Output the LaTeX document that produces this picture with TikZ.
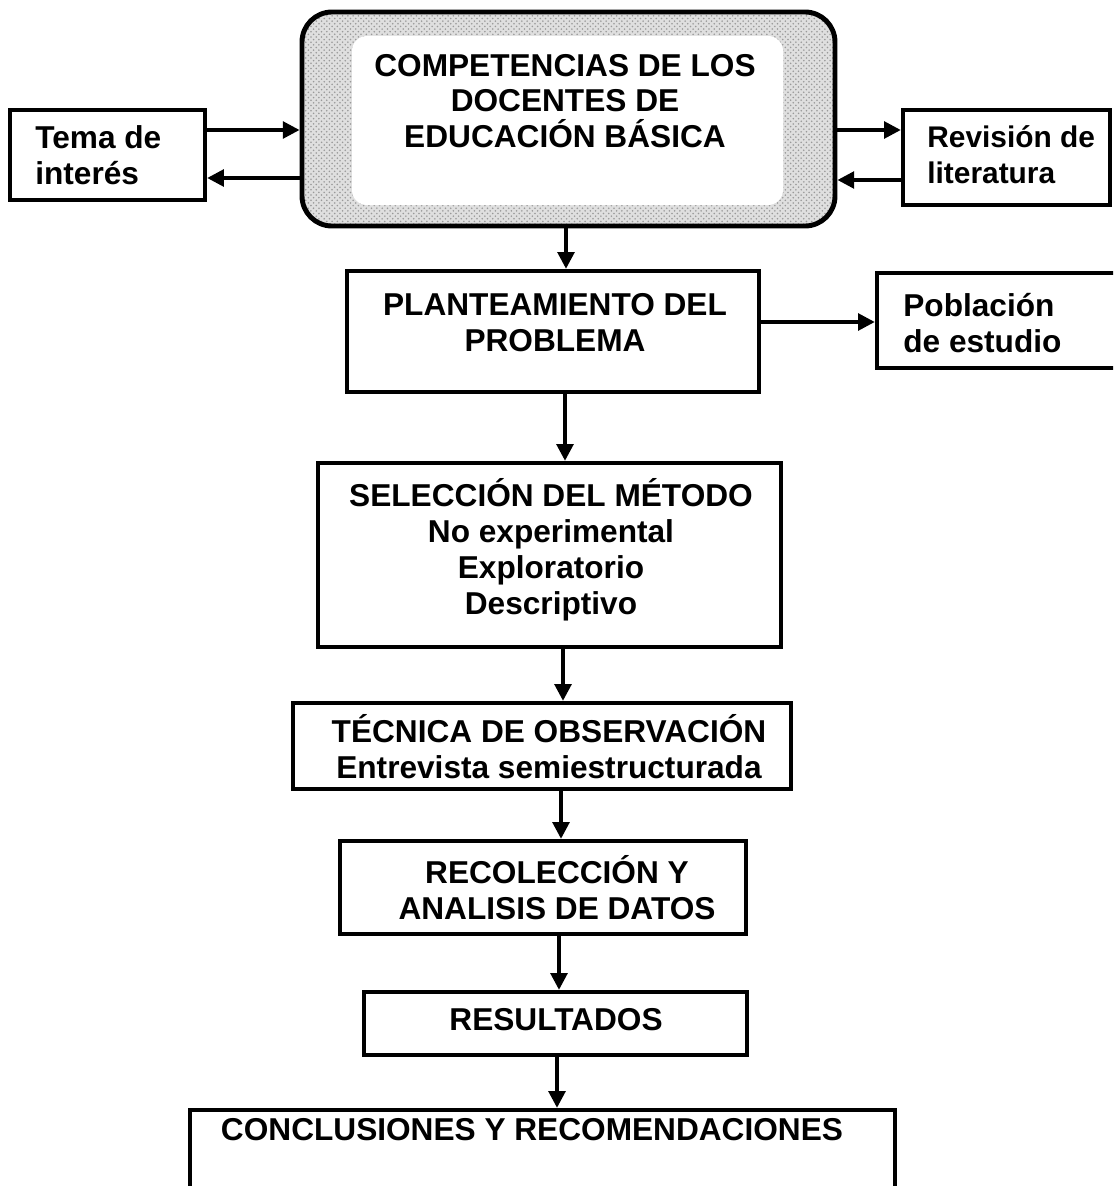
\documentclass[tikz,border=0pt]{standalone}
\usepackage{fontspec}
\setmainfont{Liberation Sans}
\usetikzlibrary{arrows.meta,fit,patterns}
\begin{document}
\begin{tikzpicture}[x=0.02cm,y=-0.02cm,
  box/.style={draw, line width=2.5pt, inner sep=0pt},
  txt/.style={font=\bfseries\fontsize{18}{20.4}\selectfont, inner sep=0pt},
  smalltxt/.style={font=\bfseries\fontsize{17}{20.4}\selectfont, inner sep=0pt},
  arr/.style={line width=2pt, -{Triangle[length=9.5pt,width=9.5pt]}},
]
\useasboundingbox (0,0) rectangle (1113,1186);
\clip (0,0) rectangle (1113,1186);

% helper coordinates
\coordinate (yA) at (0,130);
\coordinate (yB) at (0,178);
\coordinate (yC) at (0,130);
\coordinate (yD) at (0,180);
\coordinate (yP) at (0,322);
\coordinate (x1) at (566,0);
\coordinate (x2) at (565,0);
\coordinate (x3) at (563,0);
\coordinate (x4) at (561,0);
\coordinate (x5) at (559,0);
\coordinate (x6) at (557,0);

% big rounded box
\node[fit={(302,12) (835,226)}, inner sep=0pt, draw, line width=2.8pt,
      rounded corners=0.6cm, preaction={fill=gray!25},
      pattern=crosshatch dots, pattern color=gray!80] (big) {};
\fill[white, rounded corners=0.3cm] (352,36) rectangle (783,205);
\node[txt, align=center] (bigtxt) at (565,101)
  {COMPETENCIAS DE LOS\\DOCENTES DE\\EDUCACIÓN BÁSICA};

% side boxes
\node[box, fit={(10,110) (205,200)}] (tema) {};
\node[txt, align=left, anchor=west] (tematxt) at (35,155) {Tema de\\interés};

\node[box, fit={(903,110) (1110,205)}] (rev) {};
\node[smalltxt, align=left, anchor=west] (revtxt) at (927,155) {Revisión de\\literatura};

% main column
\node[box, fit={(347,271) (759,392)}] (plan) {};
\node[txt, align=center] (plantxt) at (555,323) {PLANTEAMIENTO DEL\\PROBLEMA};

\node[box, fit={(877,273) (1125,368)}] (pob) {};
\node[txt, align=left, anchor=west] (pobtxt) at (903,323) {Población\\de estudio};

\node[box, fit={(318,463) (781,647)}] (sel) {};
\node[txt, align=center] (seltxt) at (551,550)
  {SELECCIÓN DEL MÉTODO\\No experimental\\Exploratorio\\Descriptivo};

\node[box, fit={(293,703) (791,789)}] (tec) {};
\node[txt, align=center] (tectxt) at (549,747)
  {TÉCNICA DE OBSERVACIÓN\\Entrevista semiestructurada};

\node[box, fit={(340,841) (746,934)}] (rec) {};
\node[txt, align=center] (rectxt) at (557,888)
  {RECOLECCIÓN Y\\ANALISIS DE DATOS};

\node[box, fit={(364,992) (747,1055)}] (res) {};
\node[txt] (restxt) at (556,1020) {RESULTADOS};

\node[box, fit={(190,1110) (895,1220)}] (con) {};
\node[txt] (contxt) at (532,1130) {CONCLUSIONES Y RECOMENDACIONES};

% connectors
\draw[arr] (tema.east |- yA) -- (big.west |- yA);
\draw[arr] (big.west |- yB) -- (tema.east |- yB);
\draw[arr] (big.east |- yC) -- (rev.west |- yC);
\draw[arr] (rev.west |- yD) -- (big.east |- yD);
\draw[arr] (plan.east |- yP) -- (pob.west |- yP);
\draw[arr] (big.south -| x1) -- (plan.north -| x1);
\draw[arr] (plan.south -| x2) -- (sel.north -| x2);
\draw[arr] (sel.south -| x3) -- (tec.north -| x3);
\draw[arr] (tec.south -| x4) -- (rec.north -| x4);
\draw[arr] (rec.south -| x5) -- (res.north -| x5);
\draw[arr] (res.south -| x6) -- (con.north -| x6);
\end{tikzpicture}
\end{document}
